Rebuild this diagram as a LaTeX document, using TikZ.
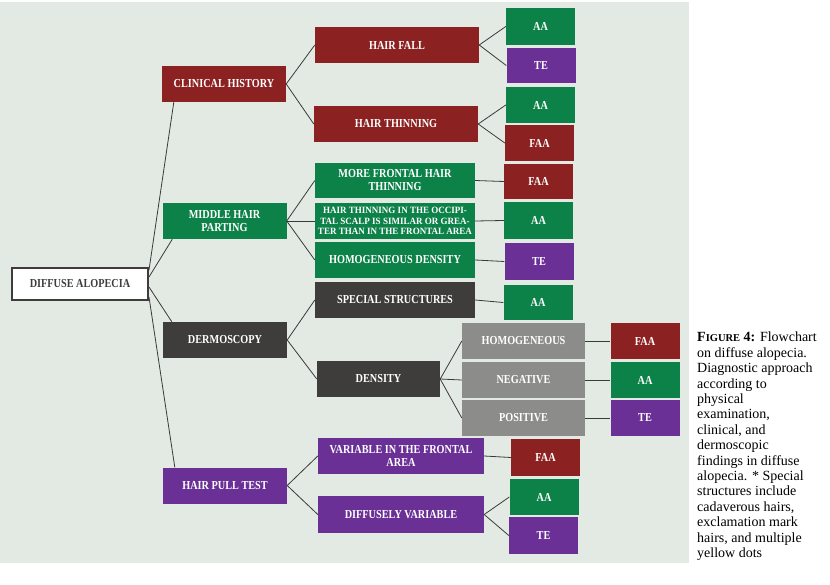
\documentclass[tikz,border=0pt]{standalone}
\usepackage{fontspec}
\setmainfont{Liberation Serif}
\newfontfamily\boxfont[FakeStretch=0.84]{Liberation Serif}
\newfontfamily\smallboxfont[FakeStretch=0.94]{Liberation Serif}
\definecolor{panelbg}{RGB}{227,233,227}
\definecolor{boxred}{RGB}{139,33,33}
\definecolor{boxgreen}{RGB}{13,130,72}
\definecolor{boxpurple}{RGB}{106,48,150}
\definecolor{boxdark}{RGB}{63,60,60}
\definecolor{boxgray}{RGB}{140,140,138}
\definecolor{linkclr}{RGB}{58,58,58}
\tikzset{
  box/.style={rectangle,inner sep=0pt,align=center,text=white,minimum height=36pt,
    font=\boxfont\bfseries\fontsize{12.2}{13}\selectfont},
  redbox/.style={box,fill=boxred},
  greenbox/.style={box,fill=boxgreen},
  purplebox/.style={box,fill=boxpurple},
  darkbox/.style={box,fill=boxdark},
  graybox/.style={box,fill=boxgray},
  mainbox/.style={minimum width=124pt},
  subbox/.style={minimum width=160pt},
  resbox/.style={minimum width=69pt},
  link/.style={draw=linkclr,line width=0.8pt}
}
\begin{document}
\begin{tikzpicture}[x=1pt,y=-1pt]
	\useasboundingbox (0,0) rectangle (830,585);
	\fill[panelbg] (0,2) rectangle (689,563);

	\node[box,draw=boxdark,line width=2pt,fill=white,text=boxdark,minimum width=136pt,minimum height=32pt] (da) at (80,284) {DIFFUSE ALOPECIA};

	\node[redbox,mainbox] (ch) at (224,84) {CLINICAL HISTORY};
	\node[greenbox,mainbox] (mhp) at (224.5,221) {MIDDLE HAIR\\PARTING};
	\node[darkbox,mainbox] (derm) at (225,340) {DERMOSCOPY};
	\node[purplebox,mainbox] (hpt) at (225,485.5) {HAIR PULL TEST};

	\node[redbox,minimum width=164pt] (hf) at (397,45) {HAIR FALL};
	\node[redbox,minimum width=164pt] (ht) at (396,124) {HAIR THINNING};
	\node[greenbox,subbox,minimum height=35pt] (mfht) at (395,180.5) {MORE FRONTAL HAIR\\THINNING};
	\node[greenbox,subbox,font=\smallboxfont\bfseries\fontsize{9.6}{10.6}\selectfont] (occ) at (395,221) {HAIR THINNING IN THE OCCIPI-\\TAL SCALP IS SIMILAR OR GREA-\\TER THAN IN THE FRONTAL AREA};
	\node[greenbox,subbox] (hd) at (395,260) {HOMOGENEOUS DENSITY};
	\node[darkbox,subbox] (ss) at (395,300) {SPECIAL STRUCTURES};
	\node[darkbox,minimum width=123pt] (dens) at (378.5,379) {DENSITY};
	\node[purplebox,minimum width=166pt] (vfa) at (401,456) {VARIABLE IN THE FRONTAL\\AREA};
	\node[purplebox,minimum width=166pt,minimum height=37pt] (dv) at (401,514.5) {DIFFUSELY VARIABLE};

	\node[graybox,minimum width=123pt] (hom) at (523.5,341) {HOMOGENEOUS};
	\node[graybox,minimum width=123pt] (neg) at (523.5,380) {NEGATIVE};
	\node[graybox,minimum width=123pt] (pos) at (523.5,418) {POSITIVE};

	\node[greenbox,resbox,minimum height=37pt] (aa1) at (540.5,26.5) {AA};
	\node[purplebox,resbox,minimum height=35pt] (te1) at (541,65.5) {TE};
	\node[greenbox,resbox] (aa2) at (540.5,105) {AA};
	\node[redbox,resbox] (faa1) at (539.5,143) {FAA};
	\node[redbox,resbox,minimum height=35pt] (faa2) at (538.5,181.5) {FAA};
	\node[greenbox,resbox,minimum height=37pt] (aa3) at (538.5,220.5) {AA};
	\node[purplebox,resbox,minimum height=37pt] (te2) at (539,261.5) {TE};
	\node[greenbox,resbox,minimum height=35pt] (aa4) at (538,302.5) {AA};
	\node[redbox,resbox] (faa3) at (645,341) {FAA};
	\node[greenbox,resbox] (aa5) at (645,380) {AA};
	\node[purplebox,resbox] (te3) at (645,418) {TE};
	\node[redbox,resbox,minimum height=37pt] (faa4) at (545.5,457.5) {FAA};
	\node[greenbox,resbox] (aa6) at (544,497) {AA};
	\node[purplebox,resbox,minimum height=37pt] (te4) at (543.5,535.5) {TE};

	\draw[link] ([yshift=14pt]da.east) -- ([xshift=12pt]ch.south west);
	\draw[link] ([yshift=7pt]da.east) -- ([xshift=10pt]mhp.south west);
	\draw[link] ([yshift=-3pt]da.east) -- ([xshift=9pt]derm.north west);
	\draw[link] ([yshift=-13pt]da.east) -- ([xshift=12pt]hpt.north west);

	\foreach \a/\b in {ch/hf,ch/ht,mhp/mfht,mhp/occ,mhp/hd,derm/ss,derm/dens,hpt/vfa,hpt/dv,
		dens/hom,dens/neg,dens/pos,hf/aa1,hf/te1,ht/aa2,ht/faa1,mfht/faa2,occ/aa3,hd/te2,
		ss/aa4,hom/faa3,neg/aa5,pos/te3,vfa/faa4,dv/aa6,dv/te4}
		\draw[link] (\a.east) -- (\b.west);

	\node[anchor=north west,inner sep=0pt,align=left,font=\fontsize{14}{15.4}\selectfont] (cap) at (697,332)
		{{\bfseries F{\fontsize{10.5}{15.4}\selectfont IGURE} 4:} Flowchart\\on diffuse alopecia.\\Diagnostic approach\\according to\\physical\\examination,\\clinical, and\\dermoscopic\\findings in diffuse\\alopecia. * Special\\structures include\\cadaverous hairs,\\exclamation mark\\hairs, and multiple\\yellow dots};
\end{tikzpicture}
\end{document}
